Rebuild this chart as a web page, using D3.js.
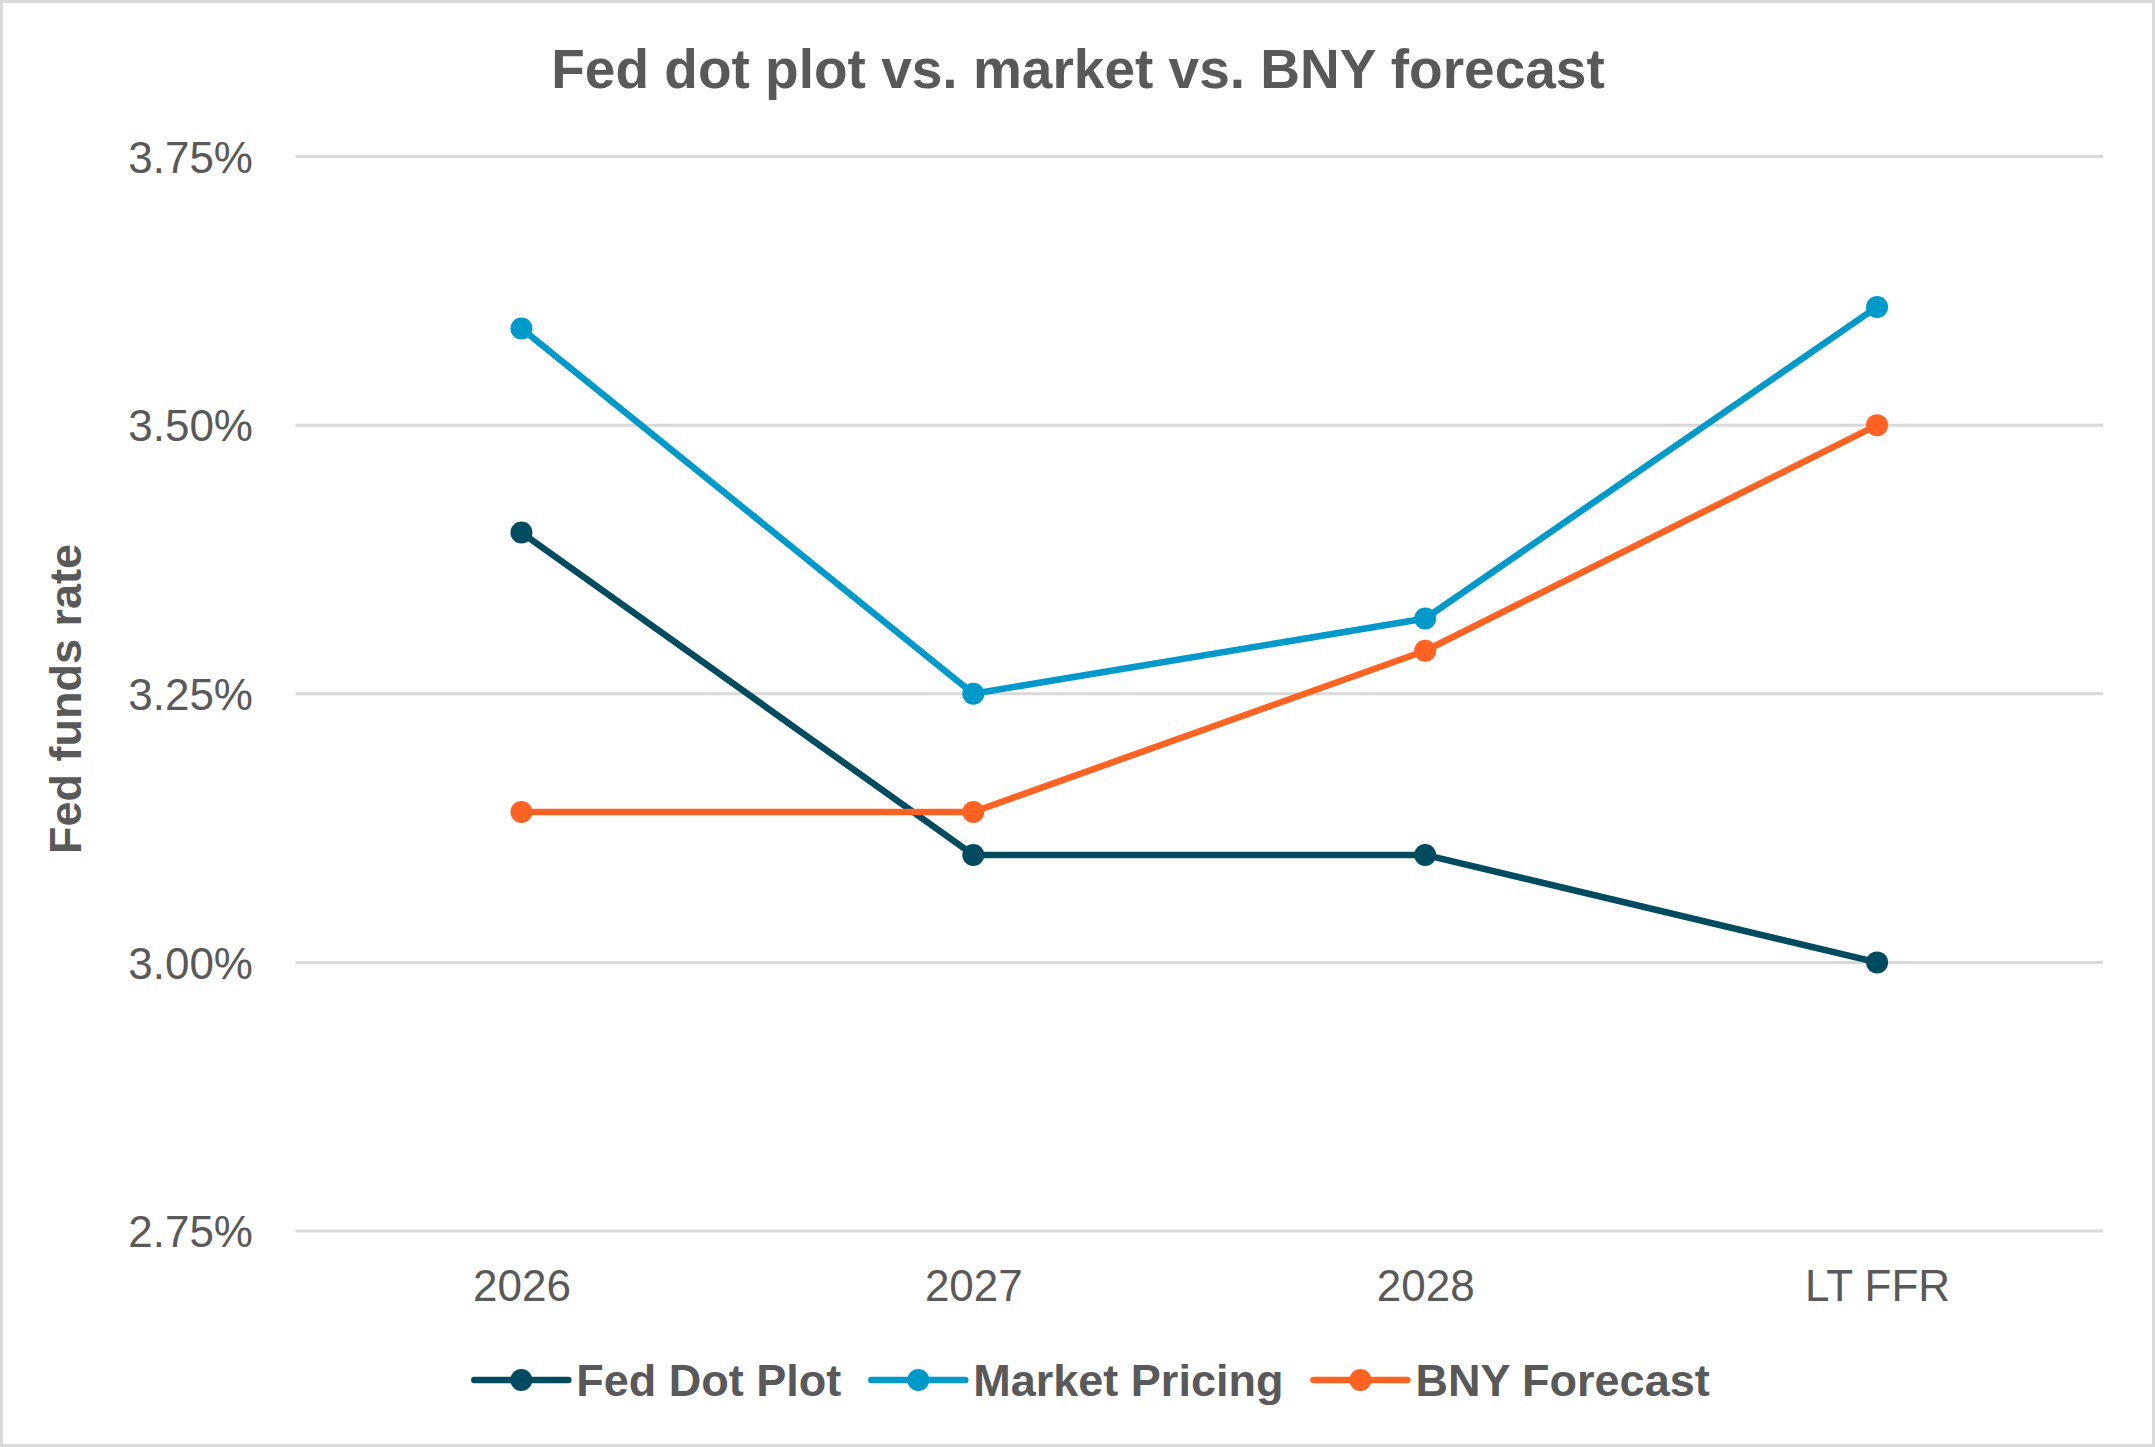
<!DOCTYPE html>
<html>
<head>
<meta charset="utf-8">
<script src="https://cdn.jsdelivr.net/npm/d3@7/dist/d3.min.js"></script>
<style>
  html, body { margin: 0; padding: 0; background: #fff; }
  svg { display: block; }
</style>
</head>
<body>
<script>
// ---- Data ----
const categories = ["2026", "2027", "2028", "LT FFR"];
const fedDotPlot = [3.40, 3.10, 3.10, 3.00];
const marketPricing = [3.59, 3.25, 3.32, 3.61];
const bnyForecast = [3.14, 3.14, 3.29, 3.50];
const seriesNames = ["Fed Dot Plot", "Market Pricing", "BNY Forecast"];
const yTicks = [2.75, 3.00, 3.25, 3.50, 3.75];
const titleText = "Fed dot plot vs. market vs. BNY forecast";
const yAxisTitle = "Fed funds rate";

// ---- Styles / layout ----
const W = 2155, H = 1447;
const colors = ["#004B60", "#0099CA", "#FF6324"];
const textColor = "#595959";
const gridColor = "#D9D9D9";
const font = "'Liberation Sans', Arial, Helvetica, sans-serif";
const plot = { left: 295.5, right: 2103, top: 156.5, bottom: 1231 };

const series = [fedDotPlot, marketPricing, bnyForecast].map((vals, i) => ({
  name: seriesNames[i], color: colors[i], values: vals
}));

const svg = d3.select("body").append("svg")
  .attr("width", W).attr("height", H)
  .attr("viewBox", `0 0 ${W} ${H}`);

// background + border
svg.append("rect")
  .attr("x", 1.5).attr("y", 1.5).attr("width", W - 3).attr("height", H - 3)
  .attr("fill", "#fff").attr("stroke", gridColor).attr("stroke-width", 3);

const x = d3.scalePoint().domain(categories).range([plot.left, plot.right]).padding(0.5);
const y = d3.scaleLinear().domain([2.75, 3.75]).range([plot.bottom, plot.top]);

// gridlines
svg.append("g").selectAll("line").data(yTicks).join("line")
  .attr("x1", plot.left).attr("x2", plot.right)
  .attr("y1", d => y(d)).attr("y2", d => y(d))
  .attr("stroke", gridColor).attr("stroke-width", 3);

// y axis labels
const yAxis = d3.axisLeft(y).tickValues(yTicks).tickFormat(d => d3.format(".2f")(d) + "%").tickSize(0).tickPadding(0);
const yg = svg.append("g").attr("transform", `translate(253,0)`).call(yAxis);
yg.select(".domain").remove();
yg.selectAll("text")
  .attr("font-family", font).attr("font-size", 44).attr("fill", textColor)
  .attr("dy", "0.36em").attr("x", 0);

// x axis labels
const xAxis = d3.axisBottom(x).tickSize(0).tickPadding(0);
const xg = svg.append("g").attr("transform", `translate(0,1301)`).call(xAxis);
xg.select(".domain").remove();
xg.selectAll("text")
  .attr("font-family", font).attr("font-size", 44).attr("fill", textColor)
  .attr("dy", 0).attr("y", 0);

// lines
const line = d3.line().x((d, i) => x(categories[i])).y(d => y(d));
svg.append("g").selectAll("path").data(series).join("path")
  .attr("d", d => line(d.values))
  .attr("fill", "none").attr("stroke", d => d.color)
  .attr("stroke-width", 6.5).attr("stroke-linejoin", "round").attr("stroke-linecap", "round");

// markers
series.forEach(s => {
  svg.append("g").selectAll("circle").data(s.values).join("circle")
    .attr("cx", (d, i) => x(categories[i])).attr("cy", d => y(d))
    .attr("r", 11).attr("fill", s.color);
});

// title
svg.append("text")
  .attr("x", 1078).attr("y", 88)
  .attr("text-anchor", "middle")
  .attr("font-family", font).attr("font-weight", "bold").attr("font-size", 55)
  .attr("fill", textColor).text(titleText);

// y axis title
svg.append("text")
  .attr("transform", `translate(81,699) rotate(-90)`)
  .attr("text-anchor", "middle")
  .attr("font-family", font).attr("font-weight", "bold").attr("font-size", 45)
  .attr("fill", textColor).text(yAxisTitle);

// legend
const legend = svg.append("g");
const swatchW = 94, gapText = 8, gapItem = 30, legendY = 1380;
let cx = 0;
const items = series.map(s => {
  const g = legend.append("g");
  g.append("line").attr("x1", 0).attr("x2", swatchW).attr("y1", 0).attr("y2", 0)
    .attr("stroke", s.color).attr("stroke-width", 6.5).attr("stroke-linecap", "round");
  g.append("circle").attr("cx", swatchW / 2).attr("cy", 0).attr("r", 11).attr("fill", s.color);
  const t = g.append("text").attr("x", swatchW + gapText).attr("y", 0).attr("dy", "0.36em")
    .attr("font-family", font).attr("font-weight", "bold").attr("font-size", 45)
    .attr("fill", textColor).text(s.name);
  const w = swatchW + gapText + t.node().getComputedTextLength();
  g.attr("transform", `translate(${cx},0)`);
  cx += w + gapItem;
  return g;
});
const totalW = cx - gapItem;
legend.attr("transform", `translate(${1092 - totalW / 2},${legendY})`);
</script>
</body>
</html>
